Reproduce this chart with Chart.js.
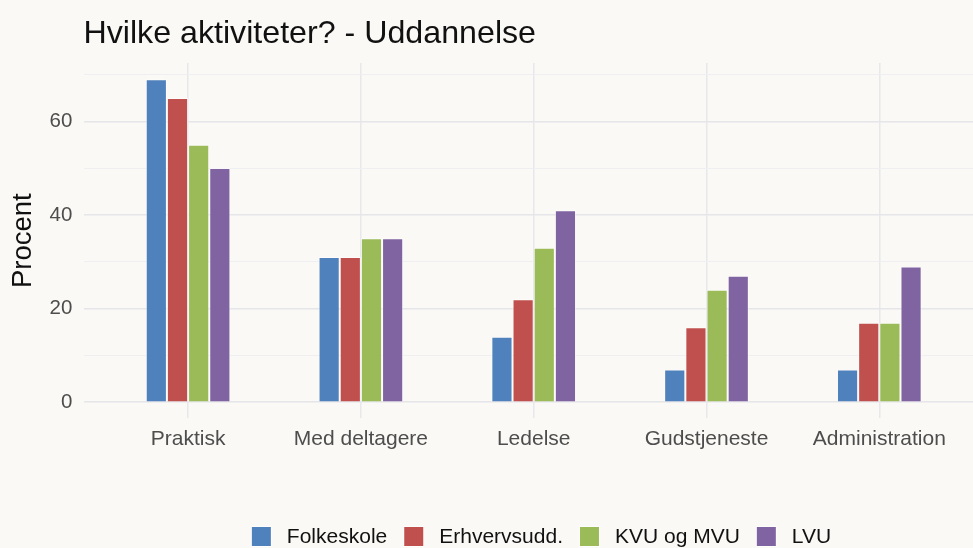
<!DOCTYPE html>
<html>
<head>
<meta charset="utf-8">
<script src="https://cdn.jsdelivr.net/npm/chart.js@4/dist/chart.umd.min.js"></script>
<style>
  html, body { margin: 0; padding: 0; background: #faf9f5; overflow: hidden; }
  #wrap { width: 983px; height: 557px; position: relative; }
</style>
</head>
<body>
<div id="wrap"><canvas id="myChart"></canvas></div>
<script>
const categories = ['Praktisk', 'Med deltagere', 'Ledelse', 'Gudstjeneste', 'Administration'];
const seriesNames = ['Folkeskole', 'Erhvervsudd.', 'KVU og MVU', 'LVU'];
const folkeskole = [69, 31, 14, 7, 7];
const erhvervsudd = [65, 31, 22, 16, 17];
const kvuMvu = [55, 35, 33, 24, 17];
const lvu = [50, 35, 41, 27, 29];
const yTicks = [0, 20, 40, 60];

const colors = ['#4f81bd', '#c0504d', '#9bbb59', '#8064a2'];
const seriesValues = [folkeskole, erhvervsudd, kvuMvu, lvu];
const FONT = '"Liberation Sans", Arial, sans-serif';

// title drawn at the plot's left edge, like ggplot
const titlePlugin = {
    id: 'plotTitle',
    afterDraw(chart) {
        const ctx = chart.ctx;
        ctx.save();
        ctx.font = '32.2px ' + FONT;
        ctx.fillStyle = '#111';
        ctx.textBaseline = 'alphabetic';
        ctx.fillText('Hvilke aktiviteter? - Uddannelse', chart.chartArea.left - 1, 42.5);
        ctx.restore();
    }
};

// ggplot-style legend row: key, gap, label, gap
const legendPlugin = {
    id: 'rowLegend',
    afterDraw(chart) {
        const ctx = chart.ctx;
        const box = 21, keyGap = 15, itemGap = 16, centerX = 541, top = 526;
        ctx.save();
        ctx.font = '21px ' + FONT;
        ctx.textBaseline = 'middle';
        const items = chart.data.datasets.map(ds => ({
            text: ds.label, color: ds.backgroundColor, w: ctx.measureText(ds.label).width
        }));
        let total = items.reduce((s, it) => s + box + keyGap + it.w, 0) + itemGap * (items.length - 1);
        let x = centerX - total / 2;
        items.forEach(it => {
            ctx.fillStyle = 'rgba(255, 255, 255, 0.6)';
            ctx.fillRect(x, top, box, box);
            ctx.fillStyle = it.color;
            ctx.fillRect(x + 1, top + 1, box - 2, box - 2);
            ctx.fillStyle = '#111';
            ctx.fillText(it.text, x + box + keyGap, top + box / 2 + 0.5);
            x += box + keyGap + it.w + itemGap;
        });
        ctx.restore();
    }
};

const datasets = seriesNames.map((name, i) => ({
    label: name,
    data: seriesValues[i].map((v, j) => ({ x: j + 1, y: v })),
    backgroundColor: colors[i],
    borderColor: 'rgba(255, 255, 255, 0.55)',
    borderWidth: 1,
    categoryPercentage: 0.49,
    barPercentage: 1
}));

new Chart(document.getElementById('myChart'), {
    type: 'bar',
    data: { datasets: datasets },
    options: {
        responsive: true,
        maintainAspectRatio: false,
        animation: false,
        layout: { padding: { top: 63, left: 0, right: 0, bottom: 0 } },
        plugins: {
            tooltip: { enabled: false },
            legend: { display: false }
        },
        scales: {
            x: {
                type: 'linear',
                min: 0.4,
                max: 5.6,
                offset: false,
                border: { display: false },
                grid: { offset: false, color: '#e8e8ec', lineWidth: 1.5, drawTicks: false },
                afterFit: (s) => { s.height = 138.6; },
                ticks: {
                    stepSize: 1,
                    includeBounds: false,
                    autoSkip: false,
                    maxRotation: 0,
                    padding: 8.5,
                    color: '#4d4d4d',
                    font: { family: FONT, size: 21 },
                    callback: (v) => categories[v - 1] ?? ''
                }
            },
            y: {
                min: -3.45,
                max: 72.45,
                border: { display: false },
                grid: {
                    drawTicks: false,
                    color: (c) => (c.tick && c.tick.value % 20 === 0) ? '#e6e6ea' : '#efeff1',
                    lineWidth: (c) => (c.tick && c.tick.value % 20 === 0) ? 1.5 : 1
                },
                afterFit: (s) => { s.width = 84.4; },
                title: {
                    display: true,
                    text: 'Procent',
                    color: '#111',
                    padding: { top: 7, bottom: 0 },
                    font: { family: FONT, size: 27.5 }
                },
                ticks: {
                    stepSize: 10,
                    includeBounds: false,
                    padding: 12,
                    color: '#4d4d4d',
                    font: { family: FONT, size: 20.5 },
                    callback: (v) => yTicks.includes(v) ? v : ''
                }
            }
        }
    },
    plugins: [titlePlugin, legendPlugin]
});
</script>
</body>
</html>
